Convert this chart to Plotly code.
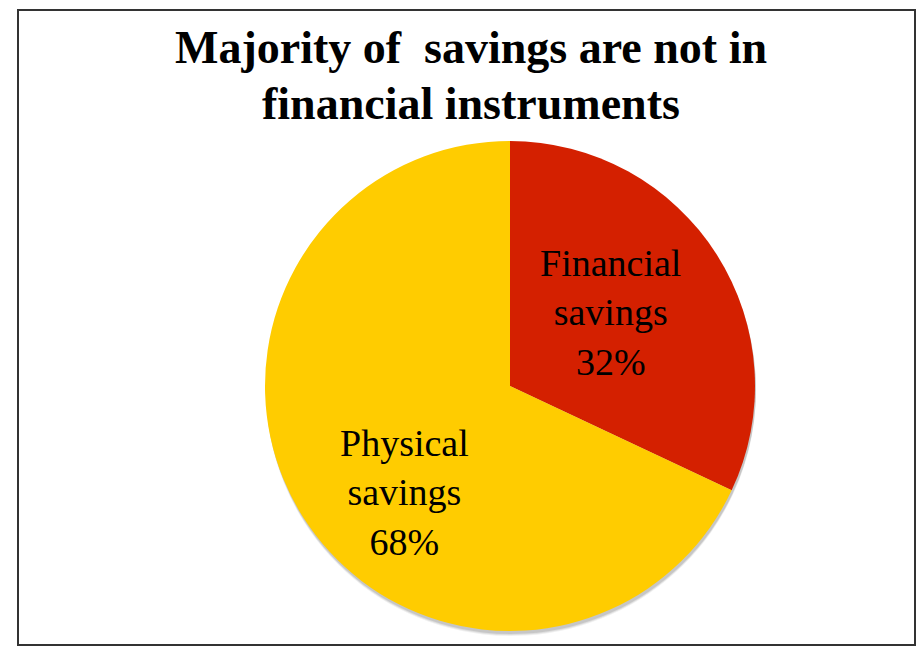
import plotly.graph_objects as go

# Savings split
categories = ["Financial savings", "Physical savings"]
shares = [32, 68]
colors = ["#D42000", "#FFCC00"]
title_lines = ["Majority of  savings are not in", "financial instruments"]

W, H = 917, 647
cx, cy, r = 510, 386, 245  # pie centre and radius in px

def px_x(x):
    return x / W

def px_y(y):
    return 1 - y / H

fig = go.Figure()

# soft drop shadow beneath the pie
for dx, dy, a in [(1, 5, 0.06), (1, 4, 0.08), (1, 3, 0.10)]:
    fig.add_trace(go.Pie(
        labels=categories, values=shares, sort=False, direction="clockwise", rotation=0,
        marker=dict(colors=[f"rgba(0,0,0,{a})"] * 2, line=dict(width=0)),
        textinfo="none", hoverinfo="skip", showlegend=False,
        domain=dict(x=[px_x(cx - r + dx), px_x(cx + r + dx)],
                    y=[px_y(cy + r + dy), px_y(cy - r + dy)]),
    ))

fig.add_trace(go.Pie(
    labels=categories, values=shares, sort=False, direction="clockwise", rotation=0,
    marker=dict(colors=colors, line=dict(width=0)),
    textinfo="none", showlegend=False,
    domain=dict(x=[px_x(cx - r), px_x(cx + r)], y=[px_y(cy + r), px_y(cy - r)]),
))

# data labels
label_pos = [(610, 312), (404, 492)]
for (lx, ly), name, v in zip(label_pos, categories, shares):
    pct = round(100 * v / sum(shares))
    first, second = name.split(" ")
    fig.add_annotation(
        x=px_x(lx), y=px_y(ly), xref="paper", yref="paper",
        text=f"{first}<br>{second}<br>{pct}%", showarrow=False,
        font=dict(family="Liberation Serif, serif", size=38, color="#000"),
        align="center", xanchor="center", yanchor="middle",
    )

# two-line title
for line, top in zip(title_lines, [20, 76]):
    fig.add_annotation(
        x=px_x(471), y=px_y(top), xref="paper", yref="paper",
        text=f"<b>{line}</b>", showarrow=False, align="center",
        xanchor="center", yanchor="top",
        font=dict(family="Liberation Serif, serif", size=46, color="#000"),
    )

# chart border
fig.add_shape(type="rect", xref="paper", yref="paper",
              x0=px_x(18), x1=px_x(915), y0=px_y(645), y1=px_y(10),
              line=dict(color="#333", width=2), fillcolor="rgba(0,0,0,0)")

fig.update_layout(
    width=W, height=H, margin=dict(l=0, r=0, t=0, b=0),
    paper_bgcolor="white", plot_bgcolor="white",
)

fig.write_html("out.html")
